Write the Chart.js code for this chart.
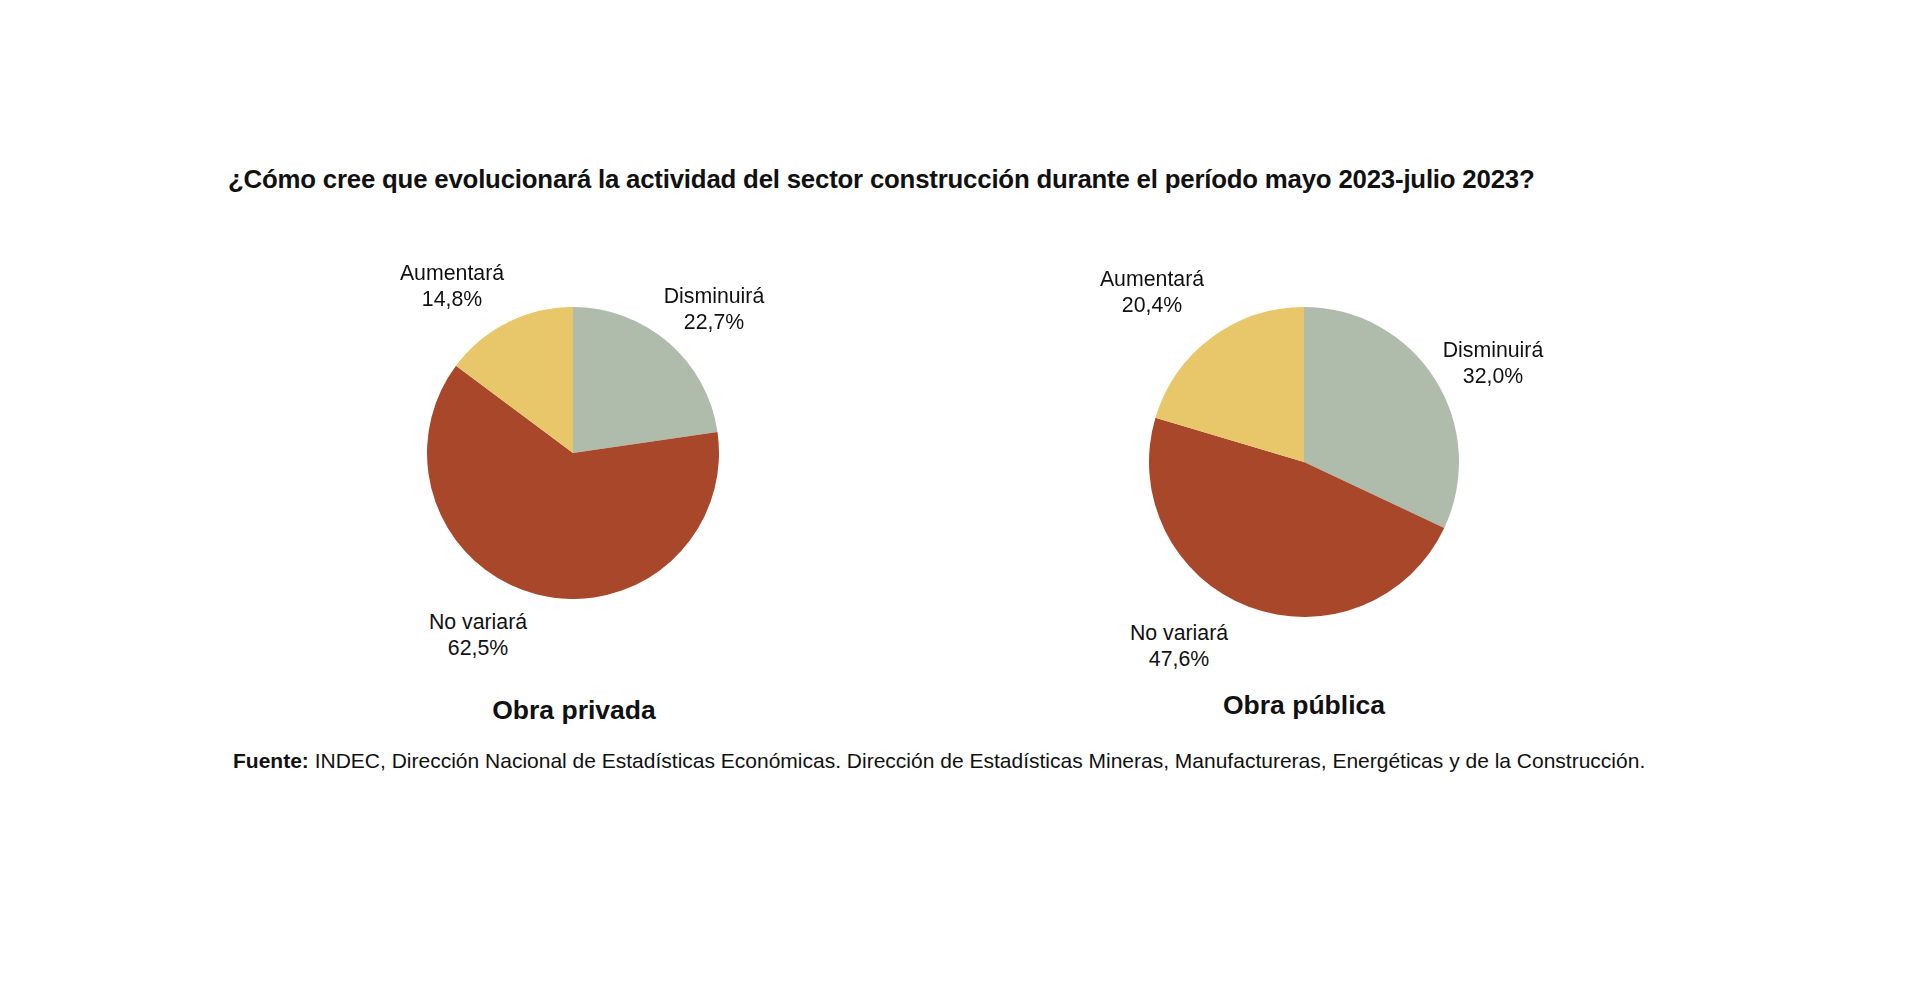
<!DOCTYPE html>
<html lang="es">
<head>
<meta charset="utf-8">
<script src="https://cdn.jsdelivr.net/npm/chart.js@4.4.0/dist/chart.umd.min.js"></script>
<style>
  html, body { margin: 0; padding: 0; background: #ffffff; }
  body { width: 1920px; height: 989px; position: relative; overflow: hidden;
         font-family: "Liberation Sans", Arial, Helvetica, sans-serif; color: #111; }
  .abs { position: absolute; white-space: nowrap; }
  .c { transform: translate(-50%, -50%); text-align: center; }
  .title { left: 228px; top: 179px; transform: translateY(-50%); font-size: 25.8px; font-weight: bold; letter-spacing: -0.2px; }
  .lbl { font-size: 21.3px; line-height: 26px; }
  .sub { font-size: 26.5px; font-weight: bold; }
  .src { left: 233px; top: 761px; transform: translateY(-50%); font-size: 21px; }
  canvas { position: absolute; }
</style>
</head>
<body>
<div class="abs title" id="title"></div>

<canvas id="pieLeft" width="292" height="292" style="left:427px; top:307px; width:292px; height:292px;"></canvas>
<canvas id="pieRight" width="310" height="310" style="left:1149px; top:307px; width:310px; height:310px;"></canvas>

<div id="labels"></div>

<div class="abs c sub" id="subLeft" style="left:574px; top:710px;"></div>
<div class="abs c sub" id="subRight" style="left:1304px; top:705px;"></div>

<div class="abs src" id="src"><b>Fuente:</b> INDEC, Dirección Nacional de Estadísticas Económicas. Dirección de Estadísticas Mineras, Manufactureras, Energéticas y de la Construcción.</div>

<script>
// ---- Data ----
const titleText = "¿Cómo cree que evolucionará la actividad del sector construcción durante el período mayo 2023-julio 2023?";
const categories = ["Disminuirá", "No variará", "Aumentará"];
const obraPrivada = [22.7, 62.5, 14.8];
const obraPublica = [32.0, 47.6, 20.4];
const chartTitles = ["Obra privada", "Obra pública"];
const sliceColors = ["#afbcab", "#a9472a", "#e8c66a"];

// label anchor positions (centre of each two-line label), per chart, per category
const labelPosLeft  = [[714, 309], [478, 635], [452, 286]];
const labelPosRight = [[1493, 363], [1179, 646], [1152, 292]];

document.getElementById('title').textContent = titleText;
document.getElementById('subLeft').textContent = chartTitles[0];
document.getElementById('subRight').textContent = chartTitles[1];

const fmt = v => v.toFixed(1).replace('.', ',') + '%';

function addLabels(values, positions) {
  const holder = document.getElementById('labels');
  values.forEach((v, i) => {
    const d = document.createElement('div');
    d.className = 'abs c lbl';
    d.style.left = positions[i][0] + 'px';
    d.style.top = positions[i][1] + 'px';
    d.innerHTML = categories[i] + '<br>' + fmt(v);
    holder.appendChild(d);
  });
}
addLabels(obraPrivada, labelPosLeft);
addLabels(obraPublica, labelPosRight);

function makePie(id, values) {
  new Chart(document.getElementById(id), {
    type: 'pie',
    data: {
      labels: categories,
      datasets: [{
        data: values,
        backgroundColor: sliceColors,
        borderWidth: 0
      }]
    },
    options: {
      responsive: false,
      animation: false,
      rotation: 0,
      layout: { padding: 0 },
      plugins: {
        legend: { display: false },
        tooltip: { enabled: false },
        title: { display: false }
      }
    }
  });
}
makePie('pieLeft', obraPrivada);
makePie('pieRight', obraPublica);
</script>
</body>
</html>
